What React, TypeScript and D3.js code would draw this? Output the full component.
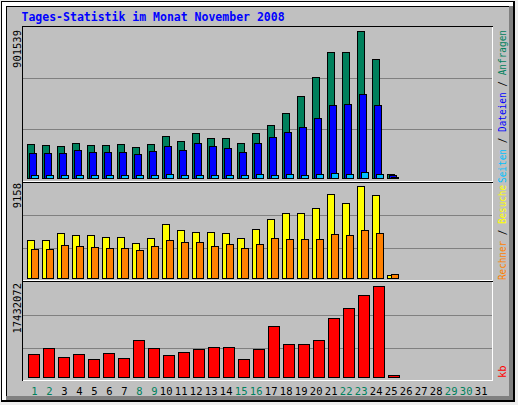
import * as d3 from "d3";

// Webalizer daily statistics, November 2008
const days = [
  "1", "2", "3", "4", "5", "6", "7", "8", "9", "10", "11", "12", "13", "14", "15", "16",
  "17", "18", "19", "20", "21", "22", "23", "24", "25", "26", "27", "28", "29", "30", "31",
];
const weekendDays = ["1", "2", "8", "9", "15", "16", "22", "23", "29", "30"];

// Anfragen / Dateien / Seiten
const hits = [
  208514, 202376, 196251, 214644, 202380, 202377, 208521, 190118, 208517, 257583, 226921, 275976,
  245318, 245322, 214651, 275982, 325044, 398641, 502905, 619420, 772748, 772755, 901539, 729812,
  24530, 0, 0, 0, 0, 0, 0,
];
const files = [
  153318, 153324, 153321, 171719, 159452, 159447, 159455, 147186, 165594, 196254, 171722, 214652,
  196249, 183991, 159450, 214648, 251452, 282113, 312778, 367971, 447702, 453834, 515163, 447698,
  18402, 0, 0, 0, 0, 0, 0,
];
const pages = [
  18396, 18402, 18399, 18405, 18397, 18401, 18398, 18404, 18400, 24531, 18403, 18398,
  18401, 18396, 18402, 24529, 18405, 24533, 18399, 24528, 30664, 24532, 36797, 24530,
  6133, 0, 0, 0, 0, 0, 0,
];

// Besuche / Rechner
const visits = [
  3783, 3782, 4479, 4280, 4281, 4081, 4082, 3484, 3982, 5375, 4778, 4579,
  4580, 4479, 3983, 4877, 5873, 6470, 6469, 6968, 8361, 7466, 9158, 8262,
  299, 0, 0, 0, 0, 0, 0,
];
const sites = [
  2887, 2886, 3285, 3185, 3086, 2986, 2987, 2787, 3184, 3783, 3583, 3584,
  3186, 3384, 2985, 3385, 3982, 3882, 3881, 3883, 4380, 4280, 4778, 4479,
  398, 0, 0, 0, 0, 0, 0,
];

// kB
const kbytes = [
  4405912, 5555307, 3831208, 4405897, 3448114, 4597503, 3639721, 7087806, 5555311, 4214326, 4789014, 5363702,
  5746815, 5746820, 3448109, 5363711, 9769604, 6321509, 6321513, 7087812, 11302107, 13217703, 15708001, 17432072,
  383122, 0, 0, 0, 0, 0, 0,
];

const maxLabels = ["901539", "9158", "17432072"];
const title = "Tages-Statistik im Monat November 2008";

const GREY = "#c0c0c0";
const DARK = "#808080";
const mono = "'DejaVu Sans Mono', monospace";

const x = d3.scaleBand<string>().domain(days).range([27, 492]);

type Panel = { x0: number; x1: number; top: number; bottom: number; grid: number[]; base: number; peak: number };

const topPanel: Panel = { x0: 22, x1: 492, top: 26, bottom: 181, grid: [78, 129], base: 178.5, peak: 31.5 };
const midPanel: Panel = { x0: 22, x1: 492, top: 182, bottom: 280, grid: [215, 248], base: 278.5, peak: 186.5 };
const botPanel: Panel = { x0: 22, x1: 492, top: 281, bottom: 380, grid: [315, 348], base: 377.5, peak: 286.5 };

const yTop = d3.scaleLinear().domain([0, d3.max(hits)!]).range([topPanel.base, topPanel.peak]);
const yMid = d3.scaleLinear().domain([0, d3.max(visits)!]).range([midPanel.base, midPanel.peak]);
const yBot = d3.scaleLinear().domain([0, d3.max(kbytes)!]).range([botPanel.base, botPanel.peak]);

function Bars(props: {
  values: number[];
  y: d3.ScaleLinear<number, number>;
  offset: number;
  w: number;
  color: string;
}) {
  const base = props.y(0);
  return (
    <g>
      {props.values.map((v, i) =>
        v > 0 ? (
          <rect
            key={i}
            x={x(days[i])! + props.offset + 0.5}
            y={props.y(v)}
            width={props.w - 1}
            height={base - props.y(v)}
            fill={props.color}
            stroke="#000"
            strokeWidth={1}
            shapeRendering="crispEdges"
          />
        ) : null
      )}
    </g>
  );
}

function PanelBack({ p }: { p: Panel }) {
  return (
    <g shapeRendering="crispEdges">
      {p.grid.map((g) => (
        <line key={g} x1={p.x0 + 1} x2={p.x1} y1={g + 0.5} y2={g + 0.5} stroke={DARK} />
      ))}
    </g>
  );
}

function PanelFrame({ p }: { p: Panel }) {
  return (
    <g shapeRendering="crispEdges">
      <line x1={p.x0} x2={p.x1 + 1} y1={p.top + 0.5} y2={p.top + 0.5} stroke="#000" />
      <line x1={p.x0 + 0.5} x2={p.x0 + 0.5} y1={p.top} y2={p.bottom + 1} stroke="#000" />
      <line x1={p.x0 + 1} x2={p.x1 + 1} y1={p.bottom + 0.5} y2={p.bottom + 0.5} stroke="#fff" />
      <line x1={p.x1 + 0.5} x2={p.x1 + 0.5} y1={p.top + 1} y2={p.bottom + 1} stroke="#fff" />
    </g>
  );
}

function LeftLabel({ text, yEnd }: { text: string; yEnd: number }) {
  return (
    <text
      transform={`translate(21,${yEnd}) rotate(-90)`}
      textAnchor="end"
      fontFamily={mono}
      fontSize={10.5}
      fill="#000"
    >
      {text}
    </text>
  );
}

export default function App() {
  return (
    <svg
      width={518}
      height={405}
      style={{ position: "absolute", left: 0, top: 0 }}
      xmlns="http://www.w3.org/2000/svg"
    >
      <rect x={0} y={0} width={518} height={405} fill="#eeeeee" />
      {/* outer frame */}
      <g shapeRendering="crispEdges">
        <rect x={1} y={1} width={514} height={401} fill="#000" />
        <rect x={2} y={2} width={511} height={398} fill={GREY} />
        <rect x={2} y={2} width={511} height={4} fill="#fff" />
        <rect x={2} y={2} width={4} height={398} fill="#fff" />
        <rect x={509} y={6} width={4} height={394} fill={DARK} />
        <rect x={6} y={396} width={507} height={4} fill={DARK} />
        <line x1={6.5} x2={6.5} y1={6} y2={396} stroke="#000" />
        <line x1={6} x2={509} y1={6.5} y2={6.5} stroke="#000" />
      </g>

      <text x={21.5} y={20.5} fontFamily={mono} fontWeight="bold" fontSize={11.5} fill="#0000ff">
        {title}
      </text>

      <PanelBack p={topPanel} />
      <PanelBack p={midPanel} />
      <PanelBack p={botPanel} />

      <Bars values={hits} y={yTop} offset={0} w={8} color="#00805c" />
      <Bars values={files} y={yTop} offset={2} w={8} color="#0000ff" />
      <Bars values={pages} y={yTop} offset={4} w={8} color="#00c0ff" />

      <Bars values={visits} y={yMid} offset={0} w={8} color="#ffff00" />
      <Bars values={sites} y={yMid} offset={4} w={8} color="#ff8000" />

      <Bars values={kbytes} y={yBot} offset={1} w={12} color="#ff0000" />

      <PanelFrame p={topPanel} />
      <PanelFrame p={midPanel} />
      <PanelFrame p={botPanel} />

      <LeftLabel text={maxLabels[0]} yEnd={30} />
      <LeftLabel text={maxLabels[1]} yEnd={183} />
      <LeftLabel text={maxLabels[2]} yEnd={283} />

      {/* right-hand legends */}
      <text
        transform="translate(506,30) rotate(-90)"
        textAnchor="end"
        fontFamily={mono}
        fontSize={10.5}
        textLength={153}
        lengthAdjust="spacingAndGlyphs"
      >
        <tspan fill="#00c0ff">Seiten</tspan>
        <tspan fill="#000"> / </tspan>
        <tspan fill="#0000ff">Dateien</tspan>
        <tspan fill="#000"> / </tspan>
        <tspan fill="#00805c">Anfragen</tspan>
      </text>
      <text
        transform="translate(506,185) rotate(-90)"
        textAnchor="end"
        fontFamily={mono}
        fontSize={10.5}
        textLength={95}
        lengthAdjust="spacingAndGlyphs"
      >
        <tspan fill="#ff8000">Rechner</tspan>
        <tspan fill="#000"> / </tspan>
        <tspan fill="#ffff00">Besuche</tspan>
      </text>
      <text transform="translate(506,378) rotate(-90)" textAnchor="start" fontFamily={mono} fontSize={10.5} fill="#ff0000">
        kb
      </text>

      {/* day labels */}
      {days.map((d) => (
        <text
          key={d}
          x={x(d)! + 10.5}
          y={395}
          textAnchor="end"
          fontFamily={mono}
          fontSize={10.5}
          fill={weekendDays.includes(d) ? "#00805c" : "#000"}
        >
          {d}
        </text>
      ))}
    </svg>
  );
}
